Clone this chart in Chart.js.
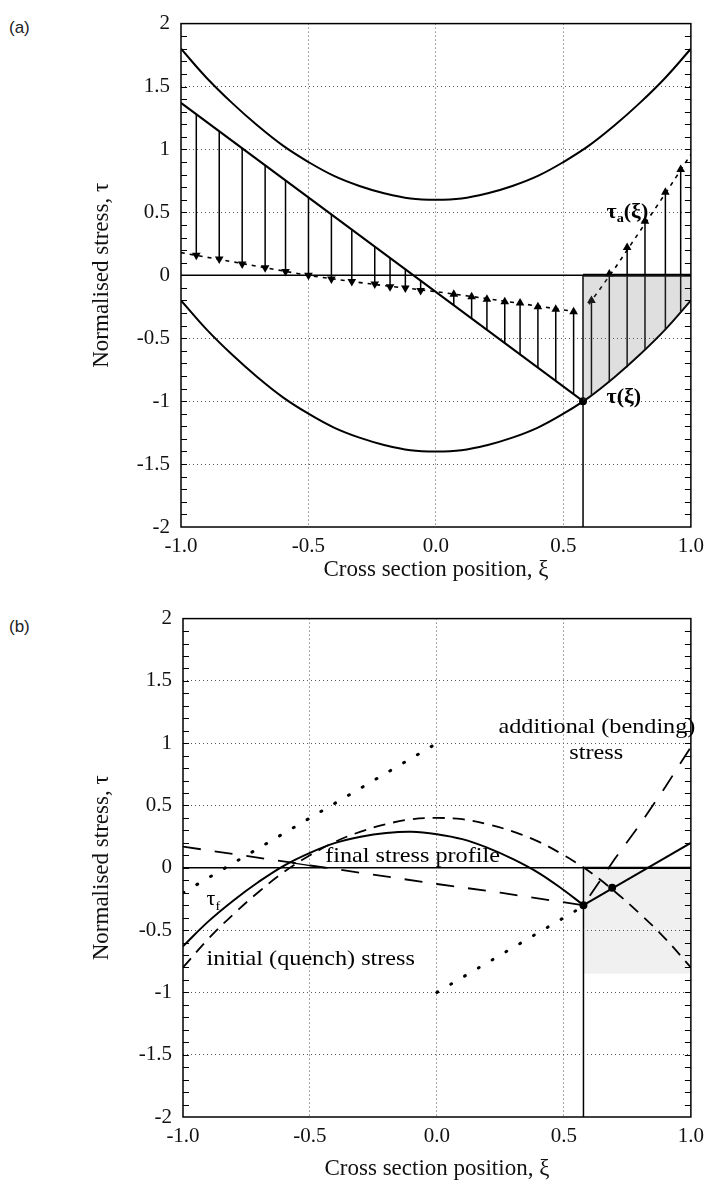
<!DOCTYPE html>
<html>
<head>
<meta charset="utf-8">
<script src="https://cdn.jsdelivr.net/npm/chart.js@4.4.0/dist/chart.umd.min.js"></script>
<style>
body { margin: 0; background: #fff; }
#wrap { position: relative; width: 711px; height: 1189px; }
canvas { position: absolute; left: 0; }
#chartA { top: 0; }
#chartB { top: 595px; }
.tag { position: absolute; left: 9px; font: 17px "Liberation Sans", Arial, sans-serif; color: #222; }
</style>
</head>
<body>
<div id="wrap">
  <div class="tag" style="top:18px">(a)</div>
  <div class="tag" style="top:617px">(b)</div>
  <canvas id="chartA" width="711" height="595"></canvas>
  <canvas id="chartB" width="711" height="594"></canvas>
</div>
<script>
// ---- panel (a) data ----
const xs = [-1,-0.9,-0.8,-0.7,-0.6,-0.5,-0.4,-0.3,-0.2,-0.1,0,0.1,0.2,0.3,0.4,0.5,0.6,0.7,0.8,0.9,1];
const upperY = [1.80,1.57,1.37,1.19,1.03,0.90,0.79,0.71,0.65,0.61,0.60,0.61,0.65,0.71,0.79,0.90,1.03,1.19,1.37,1.57,1.80];
const lowerY = [-0.20,-0.43,-0.63,-0.81,-0.97,-1.10,-1.21,-1.29,-1.35,-1.39,-1.40,-1.39,-1.35,-1.29,-1.21,-1.10,-0.97,-0.81,-0.63,-0.43,-0.20];
const tauX = [-1, 0.577];
const tauY = [1.37, -1.00];
const dotX = [-1,-0.75,-0.5,-0.25,0,0.25,0.55];
const dotY = [0.18,0.09,0.00,-0.07,-0.13,-0.20,-0.29];
const tauAX = [0.6,0.7,0.8,0.9,1.0];
const tauAY = [-0.23,0.05,0.35,0.65,0.96];
const shadeX = [0.577,0.6,0.7,0.8,0.9,1.0];
const shadeY = [-1.00,-0.97,-0.81,-0.63,-0.43,-0.20];
const arrowX = [-0.94,-0.85,-0.76,-0.67,-0.59,-0.50,-0.41,-0.33,-0.24,-0.18,-0.12,-0.06,0.07,0.14,0.20,0.27,0.33,0.40,0.47,0.54,0.61,0.68,0.75,0.82,0.90,0.96];
const arrowFrom = [1.28,1.14,1.01,0.87,0.75,0.62,0.48,0.36,0.23,0.14,0.05,-0.04,-0.24,-0.34,-0.43,-0.54,-0.63,-0.73,-0.84,-0.94,-0.95,-0.85,-0.73,-0.59,-0.43,-0.29];
const arrowTo = [0.16,0.13,0.09,0.06,0.03,0.00,-0.03,-0.05,-0.07,-0.09,-0.10,-0.12,-0.15,-0.17,-0.19,-0.21,-0.22,-0.25,-0.27,-0.29,-0.20,0.01,0.22,0.43,0.66,0.84];

// ---- panel (b) data ----
const initialY = [-0.80,-0.57,-0.37,-0.19,-0.03,0.10,0.21,0.29,0.35,0.39,0.40,0.39,0.35,0.29,0.21,0.10,-0.03,-0.19,-0.37,-0.57,-0.80];
const addX = [-1,-0.5,0,0.25,0.577,0.7,0.8,0.9,1.0];
const addY = [0.17,0.02,-0.13,-0.20,-0.30,0.07,0.35,0.65,0.97];
const finalX = [-1,-0.9,-0.8,-0.7,-0.6,-0.5,-0.4,-0.3,-0.2,-0.1,0,0.1,0.2,0.3,0.4,0.5,0.577];
const finalY = [-0.63,-0.43,-0.26,-0.11,0.02,0.12,0.20,0.25,0.28,0.29,0.27,0.23,0.16,0.07,-0.04,-0.18,-0.30];
const finalRX = [0.577, 1.0];
const finalRY = [-0.30, 0.20];
const limUpX = [-1, 0];
const limUpY = [-0.20, 1.00];
const limLowX = [0, 0.55];
const limLowY = [-1.00, -0.34];

const yTicks = ['2','1.5','1','0.5','0','-0.5','-1','-1.5','-2'];
const xTicks = ['-1.0','-0.5','0.0','0.5','1.0'];

const pts = (xa, ya) => xa.map((x, i) => ({ x: x, y: ya[i] }));
const SERIF = '"Liberation Serif", "Times New Roman", serif';

function line(data, opts) {
    return Object.assign({ data: data, borderColor: '#000', borderWidth: 2, pointRadius: 0, tension: 0, fill: false }, opts || {});
}

// frame, inside minor ticks and text notes
const notes = {
    id: 'notes',
    afterDatasetsDraw(chart, args, opts) {
        const { ctx, chartArea: a, scales: { x, y } } = chart;
        ctx.save();
        ctx.strokeStyle = '#000';
        ctx.lineWidth = 1.5;
        ctx.strokeRect(a.left, a.top, a.right - a.left, a.bottom - a.top);
        ctx.lineWidth = 1;
        for (let i = -19; i <= 19; i++) {
            const py = Math.round(y.getPixelForValue(i / 10)) + 0.5;
            ctx.beginPath();
            ctx.moveTo(a.left, py); ctx.lineTo(a.left + 6, py);
            ctx.moveTo(a.right, py); ctx.lineTo(a.right - 6, py);
            ctx.stroke();
        }
        ctx.fillStyle = '#000';
        ctx.textBaseline = 'middle';
        (opts.items || []).forEach(it => {
            const parts = it.parts || [{ t: it.text }];
            const size = it.size || 22;
            const weight = it.bold ? 'bold ' : '';
            let w = 0;
            parts.forEach(p => { ctx.font = weight + (p.size || size) + 'px ' + SERIF; w += ctx.measureText(p.t).width; });
            const sx = 1.1;
            let px = x.getPixelForValue(it.x);
            if (it.align === 'center') px -= w * sx / 2;
            const py = y.getPixelForValue(it.y);
            ctx.save();
            ctx.translate(px, py);
            ctx.scale(sx, 1);
            let cx = 0;
            parts.forEach(p => {
                ctx.font = weight + (p.size || size) + 'px ' + SERIF;
                ctx.fillText(p.t, cx, p.dy || 0);
                cx += ctx.measureText(p.t).width;
            });
            ctx.restore();
        });
        ctx.restore();
    }
};

function scalesFor(yWidth, xHeight, xTitlePad) {
    return {
        x: {
            type: 'linear', min: -1, max: 1,
            afterFit: s => { s.height = xHeight; },
            ticks: {
                stepSize: 0.5, padding: 7, color: '#111',
                font: { family: SERIF, size: 21 },
                callback: (v, i) => xTicks[i]
            },
            grid: {
                drawTicks: false, lineWidth: 1,
                color: c => (c.tick && Math.abs(c.tick.value) < 0.9) ? '#555' : 'rgba(0,0,0,0)'
            },
            border: { display: false, dash: [1, 3] },
            title: {
                display: true, text: 'Cross section position, ξ', color: '#111',
                font: { family: SERIF, size: 23 }, padding: { top: 0, bottom: xTitlePad }
            }
        },
        y: {
            type: 'linear', min: -2, max: 2,
            afterFit: s => { s.width = yWidth; },
            ticks: {
                stepSize: 0.5, padding: 11, color: '#111',
                font: { family: SERIF, size: 21 },
                callback: (v, i, t) => yTicks[t.length - 1 - i]
            },
            grid: {
                drawTicks: false, lineWidth: 1,
                color: c => (c.tick && Math.abs(c.tick.value) > 0.01 && Math.abs(c.tick.value) < 1.9) ? '#555' : 'rgba(0,0,0,0)'
            },
            border: { display: false, dash: [1, 3] },
            title: {
                display: true, text: 'Normalised stress, τ', color: '#111',
                font: { family: SERIF, size: 23 }, padding: { top: 88, bottom: 0 }
            }
        }
    };
}

const shafts = [];
arrowX.forEach((x, i) => {
    shafts.push({ x: x, y: arrowFrom[i] }, { x: x, y: arrowTo[i] }, { x: x, y: null });
});
const headRot = arrowTo.map((t, i) => t < arrowFrom[i] ? 180 : 0);

new Chart(document.getElementById('chartA'), {
    type: 'line',
    data: {
        datasets: [
            line(pts(shadeX, shadeY), { borderWidth: 0, fill: { value: 0 }, backgroundColor: 'rgba(110,110,110,0.22)' }),
            line(pts(xs, upperY), { tension: 0.4 }),
            line(pts(xs, lowerY), { tension: 0.4 }),
            line(pts(tauX, tauY)),
            line(pts([-1, 1], [0, 0]), { borderWidth: 1.5 }),
            line(pts([0.577, 1], [0, 0]), { borderWidth: 3 }),
            line(pts([0.577, 0.577], [0, -2]), { borderWidth: 1.5 }),
            line(pts(dotX, dotY), { borderWidth: 1.6, borderDash: [4, 5], tension: 0.3 }),
            line(pts(tauAX, tauAY), { borderWidth: 1.6, borderDash: [4, 5] }),
            line(shafts, { borderWidth: 1.5, spanGaps: false }),
            line(pts(arrowX, arrowTo), {
                showLine: false, pointRadius: 5, pointStyle: 'triangle',
                pointRotation: headRot, pointBackgroundColor: '#000', pointBorderWidth: 0
            }),
            line(pts([0.577], [-1.0]), { showLine: false, pointRadius: 3, pointBackgroundColor: '#000' })
        ]
    },
    options: {
        responsive: false, animation: false,
        layout: { padding: { top: 15, right: 16, left: 0, bottom: 0 } },
        scales: scalesFor(181, 68, 11),
        plugins: {
            legend: { display: false }, tooltip: { enabled: false },
            notes: {
                items: [
                    { x: 0.669, y: 0.50, bold: true, size: 20, parts: [{ t: 'τ' }, { t: 'a', size: 13, dy: 6 }, { t: '(ξ)' }] },
                    { x: 0.669, y: -0.97, bold: true, size: 20, parts: [{ t: 'τ(ξ)' }] }
                ]
            }
        }
    },
    plugins: [notes]
});

new Chart(document.getElementById('chartB'), {
    type: 'line',
    data: {
        datasets: [
            line(pts([0.577, 1], [-0.85, -0.85]), { borderWidth: 0, fill: { value: 0 }, backgroundColor: 'rgba(0,0,0,0.06)' }),
            line(pts([-1, 1], [0, 0]), { borderWidth: 1.5 }),
            line(pts([0.577, 1], [0, 0]), { borderWidth: 2.2 }),
            line(pts([0.577, 0.577], [0, -2]), { borderWidth: 1.5 }),
            line(pts(limUpX, limUpY), { borderWidth: 3, borderDash: [1, 15], borderCapStyle: 'round' }),
            line(pts(limLowX, limLowY), { borderWidth: 3, borderDash: [1, 15], borderCapStyle: 'round' }),
            line(pts(xs, initialY), { borderWidth: 1.8, borderDash: [12, 8], tension: 0.4 }),
            line(pts(addX, addY), { borderWidth: 1.8, borderDash: [18, 14] }),
            line(pts(finalX, finalY), { borderWidth: 2, tension: 0.4 }),
            line(pts(finalRX, finalRY), { borderWidth: 2 }),
            line(pts([-0.44, -0.57], [0.0, 0.04]), { borderWidth: 1.3 }),
            line(pts([0.577, 0.69], [-0.30, -0.16]), { showLine: false, pointRadius: 3, pointBackgroundColor: '#000' })
        ]
    },
    options: {
        responsive: false, animation: false,
        layout: { padding: { top: 7, right: 14, left: 0, bottom: 0 } },
        scales: scalesFor(183, 72, 6),
        plugins: {
            legend: { display: false }, tooltip: { enabled: false },
            notes: {
                items: [
                    { x: 0.63, y: 1.13, align: 'center', text: 'additional (bending)' },
                    { x: 0.627, y: 0.92, align: 'center', text: 'stress' },
                    { x: -0.44, y: 0.09, text: 'final stress profile' },
                    { x: -0.907, y: -0.73, text: 'initial (quench) stress' },
                    { x: -0.907, y: -0.26, size: 20, parts: [{ t: 'τ' }, { t: 'f', size: 13, dy: 6 }] }
                ]
            }
        }
    },
    plugins: [notes]
});
</script>
</body>
</html>
